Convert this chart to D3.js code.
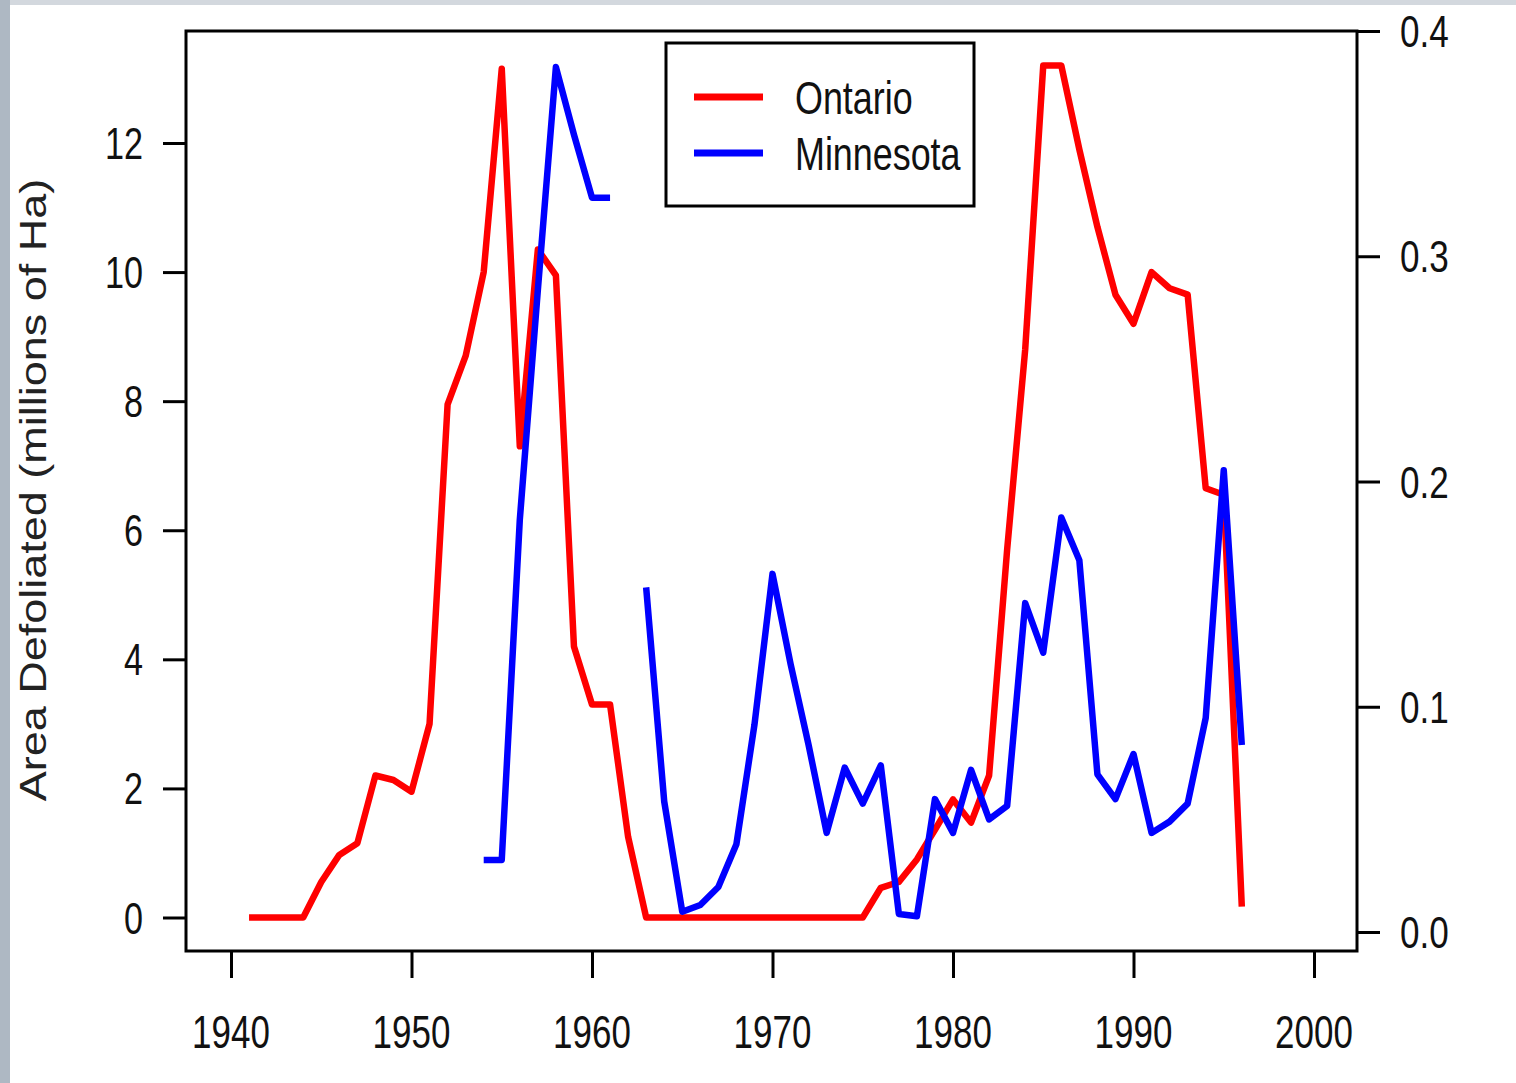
<!DOCTYPE html>
<html>
<head>
<meta charset="utf-8">
<title>Area defoliated - Ontario and Minnesota</title>
<script src="https://cdn.jsdelivr.net/npm/d3@7"></script>
<style>
  body { margin: 0; background: #ffffff; }
  text { font-family: "Liberation Sans", Arial, sans-serif; fill: #111; }
</style>
</head>
<body>
<script>
// Years and values
var ontarioYears = [1941, 1942, 1943, 1944, 1945, 1946, 1947, 1948, 1949, 1950,
  1951, 1952, 1953, 1954, 1955, 1956, 1957, 1958, 1959, 1960,
  1961, 1962, 1963, 1964, 1965, 1966, 1967, 1968, 1969, 1970,
  1971, 1972, 1973, 1974, 1975, 1976, 1977, 1978, 1979, 1980,
  1981, 1982, 1983, 1984, 1985, 1986, 1987, 1988, 1989, 1990,
  1991, 1992, 1993, 1994, 1995, 1996];
// millions of Ha (left axis)
var ontarioValues = [0, 0, 0, 0, 0.55, 0.97, 1.15, 2.2, 2.13, 1.95,
  3.0, 7.95, 8.7, 10.0, 13.15, 7.3, 10.35, 9.95, 4.2, 3.3,
  3.3, 1.25, 0, 0, 0, 0, 0, 0, 0, 0,
  0, 0, 0, 0, 0, 0.46, 0.55, 0.9, 1.36, 1.83,
  1.47, 2.2, 5.7, 8.8, 13.2, 13.2, 11.9, 10.7, 9.65, 9.2,
  10.0, 9.75, 9.65, 6.65, 6.55, 0.17];

var minnesotaYears = [1954, 1955, 1956, 1957, 1958, 1959, 1960, 1961, 1962, 1963,
  1964, 1965, 1966, 1967, 1968, 1969, 1970, 1971, 1972, 1973,
  1974, 1975, 1976, 1977, 1978, 1979, 1980, 1981, 1982, 1983,
  1984, 1985, 1986, 1987, 1988, 1989, 1990, 1991, 1992, 1993,
  1994, 1995, 1996];
// right axis, null = no data that year
var minnesotaValues = [0.032, 0.032, 0.183, 0.285, 0.384, 0.354, 0.326, 0.326, null, 0.153,
  0.058, 0.009, 0.012, 0.020, 0.039, 0.092, 0.159, 0.119, 0.083, 0.044,
  0.073, 0.057, 0.074, 0.008, 0.007, 0.059, 0.044, 0.072, 0.050, 0.056,
  0.146, 0.124, 0.184, 0.165, 0.070, 0.059, 0.079, 0.044, 0.049, 0.057,
  0.095, 0.205, 0.083];

var xTicks = [1940, 1950, 1960, 1970, 1980, 1990, 2000];
var leftTicks = [0, 2, 4, 6, 8, 10, 12];
var rightTicks = [0.0, 0.1, 0.2, 0.3, 0.4];

var seriesNames = ["Ontario", "Minnesota"];
var seriesColors = ["#ff0000", "#0000ff"];

// Page size and plot box
var width = 1516, height = 1083;
var box = {left: 186, right: 1357, top: 31, bottom: 951};

var svg = d3.select("body").append("svg")
    .attr("width", width)
    .attr("height", height);

// Grey slide edges (left and top)
svg.append("rect").attr("x", 0).attr("y", 0).attr("width", width).attr("height", 5)
    .attr("fill", "#d3d8de");
svg.append("rect").attr("x", 0).attr("y", 0).attr("width", 10).attr("height", height)
    .attr("fill", "#aeb8c3");

// Scales
var x = d3.scaleLinear().domain([1940, 2000]).range([231, 1314]);
var yLeft = d3.scaleLinear().domain([0, 12]).range([917.5, 143]);
var yRight = d3.scaleLinear().domain([0, 0.4]).range([932, 31]);

// Tick labels look horizontally squeezed in the picture
var squeeze = 0.76;

// Bottom axis
var xAxis = d3.axisBottom(x).tickValues(xTicks).tickSize(27).tickFormat("");
var gx = svg.append("g").attr("transform", "translate(0," + box.bottom + ")").call(xAxis);
svg.selectAll(".xlab").data(xTicks).enter().append("text")
    .attr("class", "xlab")
    .attr("transform", function(d) { return "translate(" + x(d) + ",1048) scale(" + squeeze + ",1)"; })
    .attr("text-anchor", "middle")
    .style("font-size", "46px")
    .text(function(d) { return d; });

// Left axis
var yAxisL = d3.axisLeft(yLeft).tickValues(leftTicks).tickSize(23).tickFormat("");
var gl = svg.append("g").attr("transform", "translate(" + box.left + ",0)").call(yAxisL);
svg.selectAll(".ylab").data(leftTicks).enter().append("text")
    .attr("class", "ylab")
    .attr("transform", function(d) { return "translate(143," + (yLeft(d) + 16) + ") scale(" + squeeze + ",1)"; })
    .attr("text-anchor", "end")
    .style("font-size", "45px")
    .text(function(d) { return d; });

// Right axis
var yAxisR = d3.axisRight(yRight).tickValues(rightTicks).tickSize(23).tickFormat("");
var gr = svg.append("g").attr("transform", "translate(" + box.right + ",0)").call(yAxisR);
svg.selectAll(".rlab").data(rightTicks).enter().append("text")
    .attr("class", "rlab")
    .attr("transform", function(d) { return "translate(1400," + (yRight(d) + 16) + ") scale(0.78,1)"; })
    .attr("text-anchor", "start")
    .style("font-size", "45px")
    .text(function(d) { return d3.format(".1f")(d); });

[gx, gl, gr].forEach(function(g) {
  g.select(".domain").remove();
  g.selectAll(".tick line").attr("stroke", "#000").attr("stroke-width", 3);
});

// Y axis title
svg.append("text")
    .attr("transform", "translate(46,490) rotate(-90) scale(1.25,1)")
    .attr("text-anchor", "middle")
    .style("font-size", "36px")
    .style("fill", "#222")
    .text("Area Defoliated (millions of Ha)");

// Lines
var ontario = ontarioYears.map(function(d, i) { return {year: d, value: ontarioValues[i]}; });
var minnesota = minnesotaYears.map(function(d, i) { return {year: d, value: minnesotaValues[i]}; });

var lineLeft = d3.line()
    .x(function(d) { return x(d.year); })
    .y(function(d) { return yLeft(d.value); });
var lineRight = d3.line()
    .defined(function(d) { return d.value !== null; })
    .x(function(d) { return x(d.year); })
    .y(function(d) { return yRight(d.value); });

svg.append("path")
    .datum(ontario)
    .attr("d", lineLeft)
    .attr("fill", "none")
    .attr("stroke", seriesColors[0])
    .attr("stroke-width", 6.5)
    .attr("stroke-linejoin", "round");

svg.append("path")
    .datum(minnesota)
    .attr("d", lineRight)
    .attr("fill", "none")
    .attr("stroke", seriesColors[1])
    .attr("stroke-width", 6.5)
    .attr("stroke-linejoin", "round");

// Plot box
svg.append("rect")
    .attr("x", box.left)
    .attr("y", box.top)
    .attr("width", box.right - box.left)
    .attr("height", box.bottom - box.top)
    .attr("fill", "none")
    .attr("stroke", "#000")
    .attr("stroke-width", 3);

// Legend
var legend = svg.append("g").attr("transform", "translate(666,43)");
legend.append("rect")
    .attr("width", 308)
    .attr("height", 163)
    .attr("fill", "#fff")
    .attr("stroke", "#000")
    .attr("stroke-width", 3);
var items = legend.selectAll(".item").data(seriesNames).enter().append("g")
    .attr("class", "item")
    .attr("transform", function(d, i) { return "translate(0," + (54 + i * 56) + ")"; });
items.append("line")
    .attr("x1", 28).attr("x2", 97)
    .attr("stroke", function(d, i) { return seriesColors[i]; })
    .attr("stroke-width", 7);
items.append("text")
    .attr("transform", "translate(129,17) scale(0.78,1)")
    .style("font-size", "46px")
    .text(function(d) { return d; });
</script>
</body>
</html>
